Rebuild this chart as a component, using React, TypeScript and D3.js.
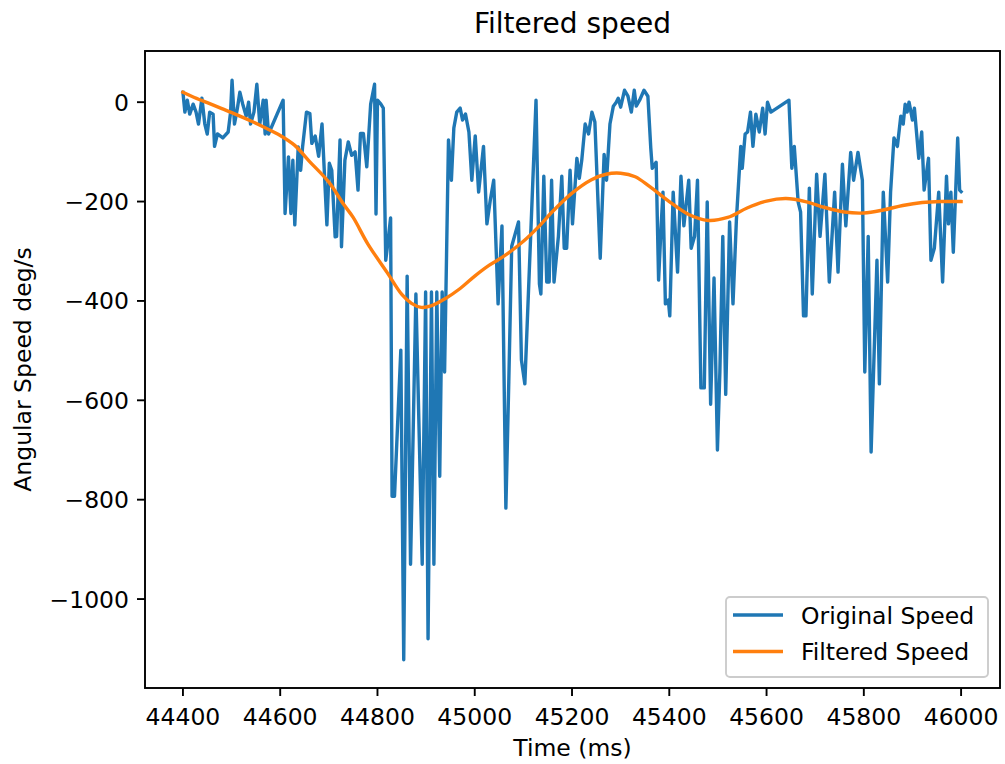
import React from "react";
import * as d3 from "d3";

const originalTime = [44400,44404,44409,44414,44421,44427,44432,44439,44445,44450,44455,44462,44465,44471,44482,44493,44498,44501,44506,44512,44517,44523,44530,44535,44539,44546,44552,44558,44565,44569,44571,44576,44606,44610,44617,44622,44626,44630,44637,44642,44646,44654,44661,44665,44672,44679,44686,44696,44701,44706,44713,44716,44723,44726,44733,44740,44747,44754,44760,44765,44771,44778,44786,44794,44797,44800,44807,44812,44817,44820,44827,44830,44835,44848,44854,44861,44868,44879,44892,44899,44904,44911,44916,44922,44928,44933,44938,44946,44952,44957,44963,44970,44975,44981,44988,44994,45001,45008,45018,45025,45032,45039,45048,45056,45064,45070,45076,45090,45096,45103,45126,45133,45136,45142,45148,45153,45158,45163,45172,45179,45184,45189,45196,45201,45210,45215,45220,45227,45234,45241,45247,45258,45266,45271,45278,45285,45291,45295,45300,45308,45315,45322,45328,45332,45339,45348,45356,45362,45365,45373,45378,45383,45387,45392,45398,45401,45408,45417,45424,45430,45440,45445,45452,45458,45465,45472,45478,45485,45492,45499,45504,45510,45516,45524,45531,45538,45547,45550,45556,45561,45567,45572,45578,45585,45592,45597,45602,45609,45646,45652,45657,45665,45670,45676,45681,45688,45694,45703,45710,45720,45729,45740,45747,45756,45763,45773,45779,45788,45797,45802,45809,45815,45827,45832,45840,45849,45855,45862,45869,45876,45881,45885,45889,45893,45900,45904,45913,45919,45924,45933,45938,45945,45954,45962,45970,45974,45979,45984,45988,45993,45997,46000];
const originalSpeed = [20,-20,4,-24,-4,-20,-44,8,-44,-64,-20,-24,-89,-64,-72,-60,-20,44,-44,-12,20,-4,-28,0,-44,-20,36,-44,4,-64,4,-64,4,-224,-110,-224,-117,-247,-90,-137,-90,-20,-23,-83,-68,-109,-44,-247,-123,-137,-271,-270,-76,-291,-117,-80,-107,-100,-177,-63,-63,-130,-4,36,-225,4,-4,-12,-318,-294,-233,-793,-793,-499,-1122,-350,-930,-386,-930,-382,-1080,-382,-930,-382,-753,-382,-543,-76,-157,-52,-20,-12,-36,-24,-60,-157,-68,-181,-89,-245,-197,-157,-406,-249,-817,-563,-290,-241,-519,-567,4,-366,-386,-149,-362,-362,-157,-362,-270,-149,-294,-294,-137,-245,-113,-153,-117,-44,-64,-20,-40,-314,-105,-157,-44,-8,0,8,-10,24,12,-20,24,-8,4,24,12,-93,-133,-121,-358,-254,-181,-406,-398,-430,-181,-342,-149,-249,-157,-294,-270,-157,-575,-575,-201,-608,-354,-700,-543,-270,-588,-241,-406,-237,-89,-133,-64,-60,-20,-89,-24,-60,-12,-64,0,-20,4,-133,-89,-201,-221,-430,-430,-173,-386,-145,-270,-145,-362,-181,-342,-125,-249,-101,-157,-101,-157,-543,-270,-704,-318,-567,-181,-362,-181,-72,-89,-28,-44,-4,-20,0,-36,-12,-113,-60,-177,-113,-318,-294,-181,-362,-149,-245,-181,-302,-201,-72,-177,-180];

const filteredTime = [44400,44420,44450,44480,44510,44540,44570,44600,44630,44660,44700,44730,44750,44780,44820,44850,44870,44890,44910,44940,44970,45000,45030,45060,45100,45130,45160,45200,45240,45270,45300,45330,45360,45400,45440,45480,45520,45560,45600,45640,45680,45720,45760,45800,45840,45880,45920,45960,46000];
const filteredSpeed = [20,11,-1,-13,-25,-38,-52,-67,-87,-119,-161,-205,-232,-285,-343,-387,-405,-413,-410,-395,-375,-350,-328,-310,-280,-252,-220,-183,-156,-145,-143,-150,-170,-200,-226,-238,-232,-213,-199,-194,-200,-212,-221,-223,-217,-208,-202,-200,-200];

const xTicks = [44400, 44600, 44800, 45000, 45200, 45400, 45600, 45800, 46000];
const yTicks = [-1000, -800, -600, -400, -200, 0];

const titleText = "Filtered speed";
const xLabel = "Time (ms)";
const yLabel = "Angular Speed deg/s";
const seriesNames = ["Original Speed", "Filtered Speed"];
const colors = ["#1f77b4", "#ff7f0e"];

const fmt = (v: number) => (v < 0 ? "\u2212" + Math.abs(v) : String(v));

export default function App() {
  const W = 1005, H = 764;
  const L = 145, T = 51, R = 1000, B = 688;
  const x = d3.scaleLinear().domain([44322, 46080]).range([L, R]);
  const y = d3.scaleLinear().domain([-1179, 103]).range([B, T]);
  const fs = 23.5;
  const font = "'DejaVu Sans', sans-serif";

  const orig = originalTime.map((t, i) => [t, originalSpeed[i]] as [number, number]);
  const filt = filteredTime.map((t, i) => [t, filteredSpeed[i]] as [number, number]);
  const line = d3.line<[number, number]>().x(d => x(d[0])).y(d => y(d[1]));
  const smooth = d3.line<[number, number]>().x(d => x(d[0])).y(d => y(d[1])).curve(d3.curveCatmullRom.alpha(0.5));

  const lx = 726, ly = 597, lw = 262, lh = 80;

  return (
    <svg width={W} height={H} style={{ position: "absolute", left: 0, top: 0, background: "#fff" }} fontFamily={font}>
      <rect x={0} y={0} width={W} height={H} fill="#fff" />
      <defs>
        <clipPath id="plotclip"><rect x={L} y={T} width={R - L} height={B - T} /></clipPath>
      </defs>
      <g clipPath="url(#plotclip)">
        <path d={line(orig) || ""} fill="none" stroke={colors[0]} strokeWidth={3.4} strokeLinejoin="round" strokeLinecap="square" />
        <path d={smooth(filt) || ""} fill="none" stroke={colors[1]} strokeWidth={3.4} strokeLinejoin="round" strokeLinecap="square" />
      </g>
      <rect x={L} y={T} width={R - L} height={B - T} fill="none" stroke="#000" strokeWidth={1.9} />
      {xTicks.map(t => (
        <g key={"x" + t}>
          <line x1={x(t)} x2={x(t)} y1={B} y2={B + 8} stroke="#000" strokeWidth={1.9} />
          <text x={x(t)} y={725} fontSize={fs} textAnchor="middle" fill="#000">{t}</text>
        </g>
      ))}
      {yTicks.map(v => (
        <g key={"y" + v}>
          <line x1={L - 8} x2={L} y1={y(v)} y2={y(v)} stroke="#000" strokeWidth={1.9} />
          <text x={129} y={y(v) + 8.5} fontSize={fs} textAnchor="end" fill="#000">{fmt(v)}</text>
        </g>
      ))}
      <text x={(L + R) / 2} y={33} fontSize={28} textAnchor="middle" fill="#000">{titleText}</text>
      <text x={(L + R) / 2} y={756} fontSize={fs} textAnchor="middle" fill="#000">{xLabel}</text>
      <text transform={`translate(31, ${(T + B) / 2}) rotate(-90)`} fontSize={fs} textAnchor="middle" fill="#000">{yLabel}</text>
      <g>
        <rect x={lx} y={ly} width={lw} height={lh} rx={4} fill="#fff" fillOpacity={0.8} stroke="#cccccc" strokeWidth={1.9} />
        {seriesNames.map((n, i) => (
          <g key={n}>
            <line x1={733} x2={783} y1={615 + i * 36.5} y2={615 + i * 36.5} stroke={colors[i]} strokeWidth={3.4} />
            <text x={801} y={615 + i * 36.5 + 8.5} fontSize={fs} fill="#000">{n}</text>
          </g>
        ))}
      </g>
    </svg>
  );
}
